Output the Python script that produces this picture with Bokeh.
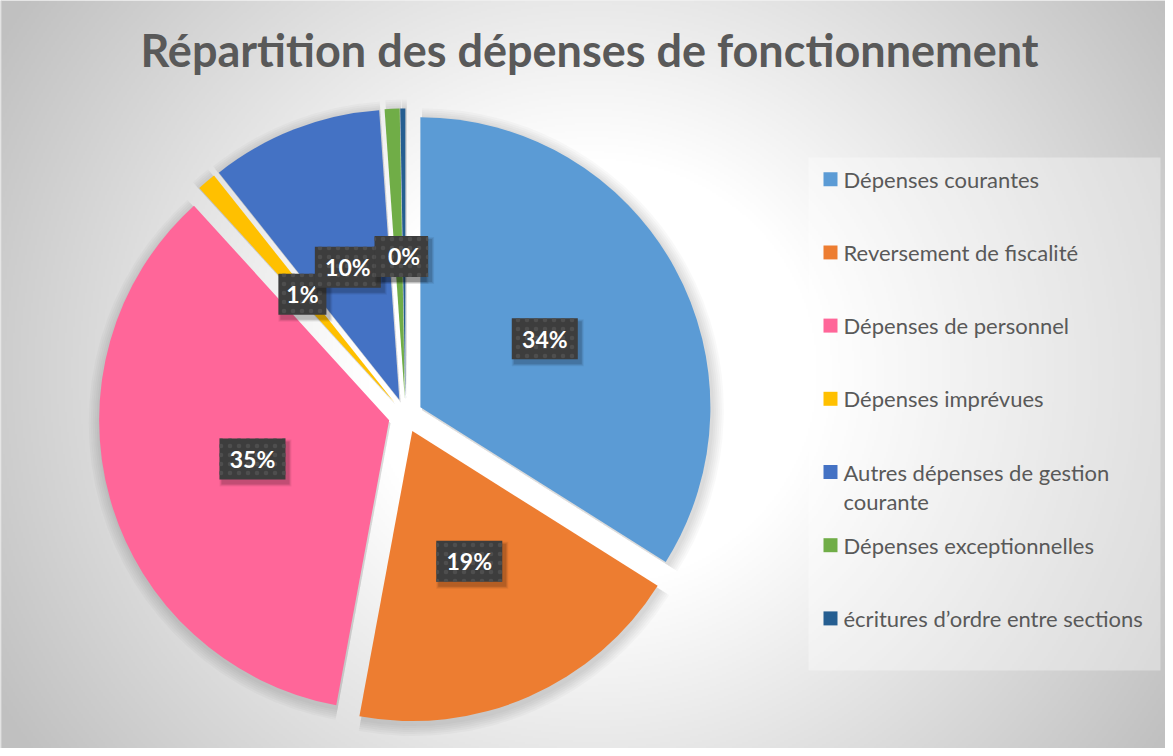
import numpy as np
from bokeh.plotting import figure
from bokeh.models import Range1d, ColumnDataSource
from bokeh.core.properties import value
from bokeh.embed import file_html
from bokeh.resources import INLINE

# ---------------- data ----------------
title = "Répartition des dépenses de fonctionnement"
categories = [
    "Dépenses courantes",
    "Reversement de fiscalité",
    "Dépenses de personnel",
    "Dépenses imprévues",
    "Autres dépenses de gestion courante",
    "Dépenses exceptionnelles",
    "écritures d’ordre entre sections",
]
legend_lines = [
    ["Dépenses courantes"],
    ["Reversement de fiscalité"],
    ["Dépenses de personnel"],
    ["Dépenses imprévues"],
    ["Autres dépenses de gestion", "courante"],
    ["Dépenses exceptionnelles"],
    ["écritures d’ordre entre sections"],
]
shares = [33.95, 18.97, 35.33, 1.06, 9.58, 0.83, 0.28]
colors = ["#5B9BD5", "#ED7D31", "#FF6699", "#FFC000", "#4472C4", "#70AD47", "#255E91"]

# ---------------- layout (pixel-like data space) ----------------
W, H = 1165, 748
FONT = "Lato"
TXT = "#595959"

def X(xs):
    return xs - 8

def Y(ys):
    return 756 - ys

p = figure(width=W, height=H, x_range=Range1d(0, W), y_range=Range1d(0, H),
           output_backend="svg", toolbar_location=None, min_border=0,
           outline_line_color=None, border_fill_color="white",
           background_fill_color="#e6e6e6")
p.axis.visible = False
p.grid.visible = False

# background radial gradient
hw, hh = W // 2 + 1, H // 2
jj, ii = np.mgrid[0:hh, 0:hw]
sx = 8 + (ii + 0.5) * 2
sy = 756 - (jj + 0.5) * 2
dist = np.sqrt((sx - 600) ** 2 + ((sy - 380) * 1.05) ** 2)
g = np.clip(255 - 0.135 * np.maximum(0, dist - 225), 192, 255).astype(np.uint8)
img = np.zeros((hh, hw), dtype=np.uint32)
view = img.view(dtype=np.uint8).reshape((hh, hw, 4))
view[:, :, 0] = g
view[:, :, 1] = g
view[:, :, 2] = g
view[:, :, 3] = 255
p.image_rgba(image=[img], x=0, y=0, dw=hw * 2, dh=hh * 2)

# chart border
p.quad(left=0.5, right=W + 5, bottom=-5, top=H + 5, fill_color=None,
       line_color="#d9d9d9", line_width=1)

# title
p.text(x=[X(597)], y=[Y(57)], text=[title], text_align="center",
       text_baseline="middle", text_font=value(FONT), text_font_style="bold",
       text_font_size="45px", text_color=TXT)

# ---------------- pie ----------------
cx0, cy0 = X(413), Y(423)
R = 290
explode = 17
vals = np.array(shares, dtype=float)
frac = vals / vals.sum()
cum = np.cumsum(frac)
t1 = 360 * (cum - frac)
t2 = 360 * cum
bis = np.radians((t1 + t2) / 2)
cxs = cx0 + explode * np.sin(bis)
cys = cy0 + explode * np.cos(bis)
start = np.radians(90 - t2)
end = np.radians(90 - t1)

src = ColumnDataSource(dict(x=cxs, y=cys, start=start, end=end, color=colors,
                            cat=categories))
# soft shadow
for k in range(1, 7):
    p.wedge(x=cxs + 1.5, y=cys - 3, radius=R + 2 * k, start_angle=start,
            end_angle=end, direction="anticlock", fill_color="black",
            fill_alpha=0.025, line_color=None)
p.wedge(x="x", y="y", radius=R, start_angle="start", end_angle="end",
        direction="anticlock", fill_color="color", line_color=None, source=src)

# data labels
lab_r = 0.49 * R
lx = cxs + lab_r * np.sin(bis)
ly = cys + lab_r * np.cos(bis)
labels = [f"{round(v)}%" for v in shares]
bw = [12 + 18 * len(t) for t in labels]
bh = 41
for i in range(len(labels)):
    # shadow
    for k, a in ((6, 0.06), (4, 0.08), (2, 0.12)):
        p.rect(x=[lx[i] + 3], y=[ly[i] - 4], width=[bw[i] + k], height=[bh + k],
               fill_color="black", fill_alpha=a, line_color=None)
    p.rect(x=[lx[i]], y=[ly[i]], width=[bw[i]], height=[bh], fill_color="#3d3d3d",
           line_color=None, hatch_pattern="dot", hatch_color="#4e4e4e",
           hatch_scale=9, hatch_weight=3)
    p.text(x=[lx[i]], y=[ly[i]], text=[labels[i]], text_align="center",
           text_baseline="middle", text_font=value(FONT), text_font_style="bold",
           text_font_size="23px", text_color="white")

# ---------------- legend ----------------
p.quad(left=X(816), right=X(1168), top=Y(165), bottom=Y(678),
       fill_color="white", fill_alpha=0.35, line_color=None)
ly0 = 186.7
lstep = 73.2
line_gap = 29
sq_x, sq_y, sq_c = [], [], []
tx, ty, tt = [], [], []
for i, lines in enumerate(legend_lines):
    yc = ly0 + i * lstep
    sq_x.append(X(838))
    sq_y.append(Y(yc))
    sq_c.append(colors[i])
    for j, line in enumerate(lines):
        tx.append(X(851))
        ty.append(Y(yc + j * line_gap))
        tt.append(line)
p.rect(x=sq_x, y=sq_y, width=14, height=14, fill_color=sq_c, line_color=None)
p.text(x=tx, y=ty, text=tt, text_align="left", text_baseline="middle",
       text_font=value(FONT), text_font_size="22px", text_color=TXT)

open("out.html", "w").write(file_html(p, INLINE))
